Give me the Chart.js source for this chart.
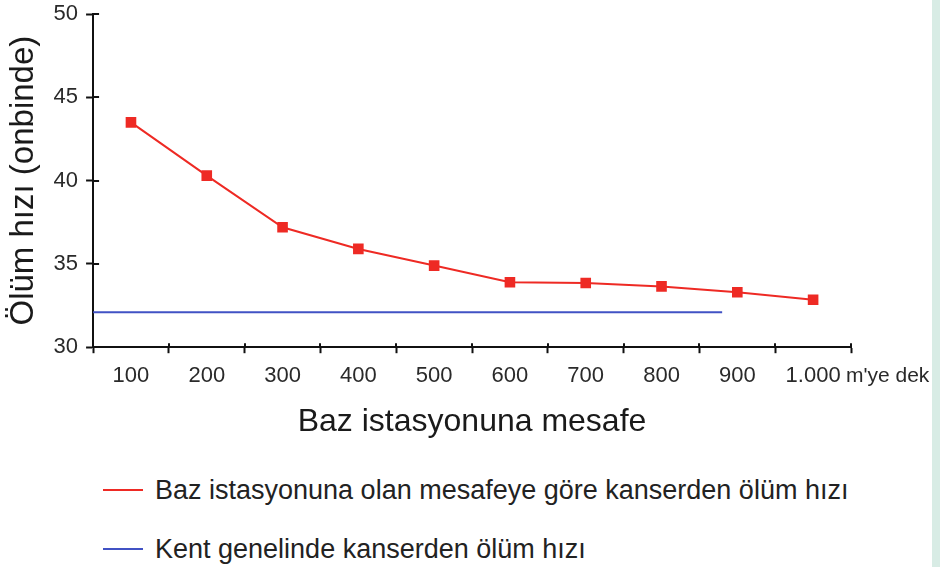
<!DOCTYPE html>
<html lang="tr">

<head>
  <meta charset="UTF-8">
  <title>Baz istasyonuna mesafe ve kanserden ölüm hızı</title>
  <script src="https://cdn.jsdelivr.net/npm/chart.js"></script>
  <style>
    body { margin: 0; background: #fff; font-family: "Liberation Sans", Arial, sans-serif; }
    #wrap { position: absolute; left: 0; top: 0; width: 940px; height: 460px; }
    #strip { position: absolute; left: 932px; top: 0; width: 8px; height: 567px; background: #d8ece5; }
    .legend-row { position: absolute; left: 103px; display: flex; align-items: center; height: 30px; font-size: 27px; color: #222; }
    .legend-row span.sample { display: inline-block; width: 40px; height: 2px; margin-right: 12px; }
  </style>
</head>

<body>
  <div id="wrap"><canvas id="chart"></canvas></div>
  <div id="legend"></div>
  <div id="strip"></div>

  <script>
    // distance bands from the base station (metres)
    const categories = ["100", "200", "300", "400", "500", "600", "700", "800", "900", "1.000"];
    const unitText = "m'ye dek";
    // cancer death rate per 10 000, by distance band
    const nearStationRate = [43.5, 40.3, 37.2, 35.9, 34.9, 33.9, 33.85, 33.65, 33.3, 32.85];
    // city-wide rate, drawn as a flat line over the distance range shown in the source
    const cityDistance = [0, 830];
    const cityRate = [32.1, 32.1];
    const yTicks = [30, 35, 40, 45, 50];

    const seriesNames = [
      "Baz istasyonuna olan mesafeye göre kanserden ölüm hızı",
      "Kent genelinde kanserden ölüm hızı"
    ];
    const red = "#ee2a24";
    const blue = "#4152c4";
    const axisColor = "#111";
    const textColor = "#2a2a2a";

    const axisExtras = {
      id: "axisExtras",
      afterDatasetsDraw(chart) {
        const { ctx, scales: { x, y } } = chart;
        ctx.save();
        ctx.strokeStyle = axisColor;
        ctx.lineWidth = 2;
        ctx.beginPath();
        // inner half of the cross ticks
        y.ticks.forEach((t, i) => {
          const py = Math.round(y.getPixelForTick(i));
          ctx.moveTo(x.left, py);
          ctx.lineTo(x.left + 6, py);
        });
        const step = x.width / categories.length;
        for (let i = 0; i <= categories.length; i++) {
          const px = Math.round(x.left + i * step);
          ctx.moveTo(px, y.bottom);
          ctx.lineTo(px, y.bottom - 4);
        }
        ctx.stroke();
        // unit written after the last distance label
        ctx.fillStyle = textColor;
        ctx.font = '21px "Liberation Sans", Arial, sans-serif';
        ctx.textBaseline = "middle";
        ctx.fillText(unitText, x.right - 5, x.top + 6 + 10 + 13);
        ctx.restore();
      }
    };

    const chart = new Chart(document.getElementById("chart"), {
      type: "line",
      data: {
        labels: categories,
        datasets: [{
          label: seriesNames[0],
          data: nearStationRate,
          borderColor: red,
          backgroundColor: red,
          borderWidth: 2,
          pointStyle: "rect",
          pointRadius: 7.5,
          pointHoverRadius: 7.5,
          pointBorderWidth: 0,
          tension: 0
        }, {
          label: seriesNames[1],
          data: cityDistance.map((d, i) => ({ x: d, y: cityRate[i] })),
          xAxisID: "xd",
          borderColor: blue,
          backgroundColor: blue,
          borderWidth: 2,
          pointRadius: 0,
          pointHoverRadius: 0
        }]
      },
      options: {
        responsive: true,
        maintainAspectRatio: false,
        animation: false,
        layout: { padding: { left: 0, right: 89, top: 0, bottom: 19 } },
        plugins: { legend: { display: false }, tooltip: { enabled: false } },
        scales: {
          x: {
            type: "category",
            offset: true,
            grid: { offset: true, drawOnChartArea: false, tickLength: 6, tickColor: axisColor, tickWidth: 2 },
            border: { color: axisColor, width: 2 },
            ticks: { color: textColor, padding: 10, maxRotation: 0, font: { family: "Liberation Sans", size: 22 } },
            title: {
              display: true,
              text: "Baz istasyonuna mesafe",
              color: "#1a1a1a",
              padding: { top: 3, bottom: 0 },
              font: { family: "Liberation Sans", size: 32 }
            }
          },
          xd: { type: "linear", min: 0, max: 1000, display: false },
          y: {
            min: 30,
            max: 50,
            afterBuildTicks: (axis) => { axis.ticks = yTicks.map(v => ({ value: v })); },
            grid: { drawOnChartArea: false, tickLength: 7, tickColor: axisColor, tickWidth: 2 },
            border: { color: axisColor, width: 2 },
            ticks: { color: textColor, padding: 8, font: { family: "Liberation Sans", size: 22, lineHeight: 0.55 } },
            title: {
              display: true,
              text: "Ölüm hızı (onbinde)",
              color: "#1a1a1a",
              padding: { top: 4, bottom: 2 },
              font: { family: "Liberation Sans", size: 33 }
            }
          }
        }
      },
      plugins: [axisExtras]
    });

    // legend under the chart, built from the datasets
    const legend = document.getElementById("legend");
    const rowTops = [475, 534];
    chart.data.datasets.forEach((ds, i) => {
      const row = document.createElement("div");
      row.className = "legend-row";
      row.style.top = rowTops[i] + "px";
      row.innerHTML = `<span class="sample" style="background:${ds.borderColor}"></span>${ds.label}`;
      legend.appendChild(row);
    });
  </script>
</body>

</html>
